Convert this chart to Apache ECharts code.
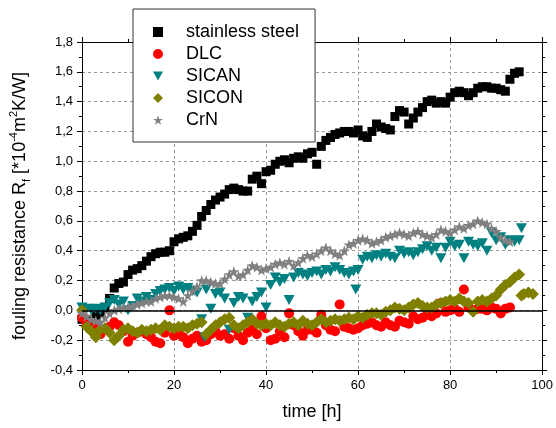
<!DOCTYPE html>
<html>
<head>
<meta charset="utf-8">
<script src="https://cdn.jsdelivr.net/npm/echarts@6/dist/echarts.min.js"></script>
<style>
  html, body { margin: 0; padding: 0; background: #fff; }
  #chart { width: 556px; height: 428px; }
</style>
</head>
<body>
<div id="chart"></div>
<script>
// fouling resistance vs time
const steel = [
  [0,-0.06],[1,-0.07],[2,-0.06],[3,-0.04],[4,-0.02],[5,0.02],[6,0.08],[7,0.15],[8,0.18],[9,0.19],
  [10,0.24],[11,0.27],[12,0.28],[13,0.30],[14,0.33],[15,0.36],[16,0.38],[17,0.39],[18,0.39],[19,0.40],
  [20,0.46],[21,0.48],[22,0.49],[23,0.50],[24,0.53],[25,0.57],[26,0.63],[27,0.67],[28,0.71],[29,0.74],
  [30,0.76],[31,0.78],[32,0.81],[33,0.82],[34,0.81],[35,0.80],[36,0.80],[37,0.88],[38,0.90],[39,0.85],
  [40,0.93],[41,0.94],[42,0.98],[43,1.00],[44,1.01],[45,0.99],[46,1.02],[47,1.03],[48,1.02],[49,1.05],
  [50,1.06],[51,0.98],[52,1.10],[53,1.14],[54,1.16],[55,1.18],[56,1.19],[57,1.20],[58,1.20],[59,1.19],
  [60,1.21],[61,1.17],[62,1.16],[63,1.20],[64,1.25],[65,1.23],[66,1.22],[67,1.21],[68,1.30],[69,1.34],
  [70,1.33],[71,1.25],[72,1.29],[73,1.33],[74,1.36],[75,1.40],[76,1.41],[77,1.39],[78,1.40],[79,1.39],
  [80,1.43],[81,1.46],[82,1.47],[83,1.46],[84,1.44],[85,1.46],[86,1.49],[87,1.50],[88,1.50],[89,1.49],
  [90,1.49],[91,1.48],[92,1.47],[93,1.55],[94,1.59],[95,1.60]
];
const dlc = [
  [0,-0.05],[1,-0.09],[2,-0.12],[3,-0.10],[4,-0.16],[5,-0.13],[6,-0.11],[7,-0.08],[8,-0.10],[9,-0.14],
  [10,-0.21],[11,-0.17],[12,-0.15],[13,-0.14],[14,-0.16],[15,-0.18],[16,-0.21],[17,-0.22],[18,-0.15],[19,0.00],
  [20,-0.17],[21,-0.16],[22,-0.18],[23,-0.22],[24,-0.19],[25,-0.17],[26,-0.21],[27,-0.20],[28,-0.16],[29,-0.14],
  [30,-0.17],[31,-0.16],[32,-0.19],[33,-0.12],[34,-0.17],[35,-0.20],[36,-0.15],[37,-0.13],[38,-0.16],[39,-0.04],
  [40,-0.12],[41,-0.20],[42,-0.19],[43,-0.14],[44,-0.18],[45,-0.02],[46,-0.10],[47,-0.14],[48,-0.17],[49,-0.13],
  [50,-0.13],[51,-0.15],[52,-0.03],[53,-0.10],[54,-0.13],[55,-0.14],[56,0.04],[57,-0.11],[58,-0.12],[59,-0.13],
  [60,-0.12],[61,-0.10],[62,-0.09],[63,-0.08],[64,-0.10],[65,-0.11],[66,-0.08],[67,-0.10],[68,-0.11],[69,-0.07],
  [70,-0.08],[71,-0.09],[72,-0.04],[73,-0.06],[74,-0.05],[75,-0.03],[76,-0.04],[77,-0.02],[78,0.05],[79,-0.01],
  [80,0.00],[81,0.01],[82,-0.01],[83,0.14],[84,0.02],[85,0.00],[86,0.01],[87,0.01],[88,0.00],[89,0.02],
  [90,0.01],[91,-0.02],[92,0.01],[93,0.02]
];
const sican = [
  [0,0.02],[1,0.01],[2,0.00],[3,0.01],[4,0.00],[5,0.02],[6,0.05],[7,0.07],[8,0.04],[9,0.06],
  [10,0.00],[11,0.03],[12,0.08],[13,0.06],[14,0.09],[15,0.07],[16,0.11],[17,0.13],[18,0.14],[19,0.15],
  [20,0.13],[21,0.16],[22,0.14],[23,0.15],[24,0.13],[25,0.12],[26,-0.06],[26.6,-0.18],[27,0.14],[28,0.01],[29,0.11],
  [30,0.12],[31,0.08],[32,-0.13],[33,0.05],[34,0.09],[35,0.08],[36,-0.05],[37,0.06],[38,0.09],[39,0.12],
  [40,0.02],[41,0.17],[42,0.22],[43,0.19],[44,0.21],[45,0.07],[46,0.22],[47,0.25],[48,0.24],[49,0.23],
  [50,0.25],[51,0.26],[52,0.24],[53,0.27],[54,0.26],[55,0.29],[56,0.27],[57,0.25],[58,0.24],[59,0.26],[59.5,0.14],
  [60,0.27],[61,0.34],[62,0.36],[63,0.35],[64,0.37],[65,0.36],[66,0.38],[67,0.36],[68,0.35],[69,0.40],
  [70,0.38],[71,0.39],[72,0.37],[73,0.39],[74,0.41],[75,0.43],[76,0.40],[77,0.42],[78,0.35],[79,0.42],
  [80,0.46],[81,0.43],[82,0.44],[83,0.35],[84,0.46],[85,0.44],[86,0.43],[87,0.45],[88,0.40],[89,0.52],
  [90,0.47],[91,0.49],[92,0.44],[93,0.47],[94,0.46],[95,0.47],[95.5,0.55]
];
const sicon = [
  [0,0.00],[1,-0.11],[2,-0.14],[3,-0.18],[4,-0.13],[5,-0.12],[6,-0.15],[7,-0.20],[8,-0.17],[9,-0.13],
  [10,-0.12],[11,-0.14],[12,-0.15],[13,-0.13],[14,-0.14],[15,-0.13],[16,-0.12],[17,-0.13],[18,-0.10],[19,-0.11],
  [20,-0.12],[21,-0.11],[22,-0.11],[23,-0.12],[24,-0.10],[25,-0.09],[26,-0.08],[27,-0.16],[28,-0.13],[29,-0.10],
  [30,-0.08],[31,-0.06],[32,-0.05],[33,-0.10],[34,-0.12],[35,-0.10],[36,-0.08],[37,-0.06],[38,-0.09],[39,-0.10],
  [40,-0.09],[41,-0.10],[42,-0.08],[43,-0.10],[44,-0.11],[45,-0.09],[46,-0.08],[47,-0.10],[48,-0.07],[49,-0.09],
  [50,-0.10],[51,-0.08],[52,-0.06],[53,-0.08],[54,-0.07],[55,-0.06],[56,-0.07],[57,-0.06],[58,-0.05],[59,-0.06],
  [60,-0.04],[61,-0.05],[62,-0.03],[63,-0.02],[64,-0.02],[65,-0.03],[66,-0.01],[67,0.00],[68,0.02],[69,0.01],
  [70,0.00],[71,0.02],[72,0.04],[73,0.05],[74,0.03],[75,0.02],[76,0.02],[77,0.04],[78,0.05],[79,0.06],
  [80,0.07],[81,0.06],[82,0.08],[83,0.06],[84,0.05],[85,-0.01],[86,0.06],[87,0.07],[88,0.06],[89,0.08],
  [90,0.10],[91,0.14],[92,0.17],[93,0.19],[94,0.22],[95,0.24],[95.5,0.10],[96,0.11],[97,0.12],[98,0.11]
];
const crn = [
  [0,-0.02],[1,-0.04],[2,-0.06],[3,-0.07],[4,-0.08],[5,-0.05],[6,-0.02],[7,0.00],[8,0.01],[9,0.02],
  [10,0.02],[11,0.03],[12,0.04],[13,0.05],[14,0.06],[15,0.06],[16,0.08],[17,0.09],[18,0.10],[19,0.10],
  [20,0.09],[21,0.08],[22,0.06],[23,0.10],[24,0.13],[25,0.16],[26,0.20],[27,0.20],[28,0.19],[29,0.18],
  [30,0.18],[31,0.21],[32,0.24],[33,0.26],[34,0.23],[35,0.24],[36,0.27],[37,0.30],[38,0.29],[39,0.27],
  [40,0.28],[41,0.29],[42,0.31],[43,0.32],[44,0.31],[45,0.33],[46,0.30],[47,0.32],[48,0.35],[49,0.37],
  [50,0.36],[51,0.38],[52,0.40],[53,0.42],[54,0.40],[55,0.38],[56,0.37],[57,0.40],[58,0.44],[59,0.45],
  [60,0.47],[61,0.48],[62,0.47],[63,0.45],[64,0.46],[65,0.47],[66,0.49],[67,0.50],[68,0.51],[69,0.52],
  [70,0.51],[71,0.50],[72,0.52],[73,0.53],[74,0.51],[75,0.50],[76,0.49],[77,0.51],[78,0.54],[79,0.53],
  [80,0.52],[81,0.54],[82,0.56],[83,0.55],[84,0.57],[85,0.58],[86,0.60],[87,0.59],[88,0.58],[89,0.55],
  [90,0.53],[91,0.49],[92,0.47],[93,0.46]
];

const starPath = 'path://M50,2 L62,38 L99,38 L69,60 L80,96 L50,74 L20,96 L31,60 L1,38 L38,38 Z';
const triDownPath = 'path://M0,0 L20,0 L10,18 Z';
const fontFam = 'Liberation Sans, Arial, sans-serif';

let chart = echarts.init(document.getElementById('chart'));

function frameAxis(extra) {
  return Object.assign({
    type: 'value',
    axisLine: { show: true, onZero: false, lineStyle: { color: '#000', width: 1 } },
    axisTick: { show: true, inside: false, length: 5, lineStyle: { color: '#000' } },
    minorTick: { show: true, splitNumber: 2, length: 3, lineStyle: { color: '#000' } },
    axisLabel: { show: false },
    splitLine: { show: false }
  }, extra);
}

let option = {
  animation: false,
  backgroundColor: '#fff',
  textStyle: { fontFamily: fontFam },
  grid: { left: 79, right: 10, top: 42, bottom: 58 },
  legend: {
    orient: 'vertical',
    left: 133,
    top: 9,
    padding: [14, 16, 13, 20],
    itemGap: 4,
    itemWidth: 10,
    itemHeight: 10,
    backgroundColor: '#fff',
    borderColor: '#333',
    borderWidth: 1,
    textStyle: { fontSize: 18, lineHeight: 18, color: '#000', fontFamily: fontFam, padding: [0, 0, 0, 18] },
    data: ['stainless steel', 'DLC', 'SICAN', 'SICON', 'CrN']
  },
  xAxis: [
    frameAxis({
      min: 0, max: 100, interval: 20,
      name: 'time [h]',
      nameLocation: 'middle',
      nameGap: 33,
      nameTextStyle: { fontSize: 18, color: '#000', fontFamily: fontFam },
      axisLabel: { show: true, margin: 9, fontSize: 13, color: '#000', fontFamily: fontFam },
      splitLine: { show: true, lineStyle: { color: '#999', type: [3, 3], width: 1 } }
    }),
    frameAxis({ min: 0, max: 100, interval: 20, position: 'top' })
  ],
  yAxis: [
    frameAxis({
      min: -0.4, max: 1.8, interval: 0.2,
      name: 'fouling resistance R{sub|f} [*10{sup|-4}m{sup|2}K/W]',
      nameLocation: 'middle',
      nameRotate: 90,
      nameGap: 50,
      nameTextStyle: {
        fontSize: 18, lineHeight: 24, color: '#000', fontFamily: fontFam,
        rich: {
          sub: { fontSize: 11, lineHeight: 12, verticalAlign: 'bottom', color: '#000', fontFamily: fontFam },
          sup: { fontSize: 11, lineHeight: 12, verticalAlign: 'top', color: '#000', fontFamily: fontFam }
        }
      },
      axisLabel: {
        show: true, margin: 9, fontSize: 13, color: '#000', fontFamily: fontFam,
        formatter: function (v) { return v.toFixed(1).replace('.', ','); }
      },
      splitLine: { show: true, lineStyle: { color: '#999', type: [3, 3], width: 1 } }
    }),
    frameAxis({ min: -0.4, max: 1.8, interval: 0.2, position: 'right' })
  ],
  series: [
    {
      name: 'stainless steel', type: 'scatter', data: steel,
      symbol: 'rect', symbolSize: 9,
      itemStyle: { color: '#000', opacity: 1 },
      // zero line, drawn under the later series
      markLine: {
        silent: true,
        symbol: ['none', 'none'],
        label: { show: false },
        lineStyle: { color: '#000', type: 'solid', width: 1.5 },
        data: [{ yAxis: 0 }]
      }
    },
    {
      name: 'DLC', type: 'scatter', data: dlc,
      symbol: 'circle', symbolSize: 10,
      itemStyle: { color: '#ff0000', opacity: 1 }
    },
    {
      name: 'SICAN', type: 'scatter', data: sican,
      symbol: triDownPath, symbolSize: [11, 10],
      itemStyle: { color: '#008080', opacity: 1 }
    },
    {
      name: 'SICON', type: 'scatter', data: sicon,
      symbol: 'diamond', symbolSize: 12,
      itemStyle: { color: '#808000', opacity: 1 }
    },
    {
      name: 'CrN', type: 'scatter', data: crn,
      symbol: starPath, symbolSize: 11,
      itemStyle: { color: '#808080', opacity: 1 }
    }
  ]
};
chart.setOption(option);
</script>
</body>
</html>
